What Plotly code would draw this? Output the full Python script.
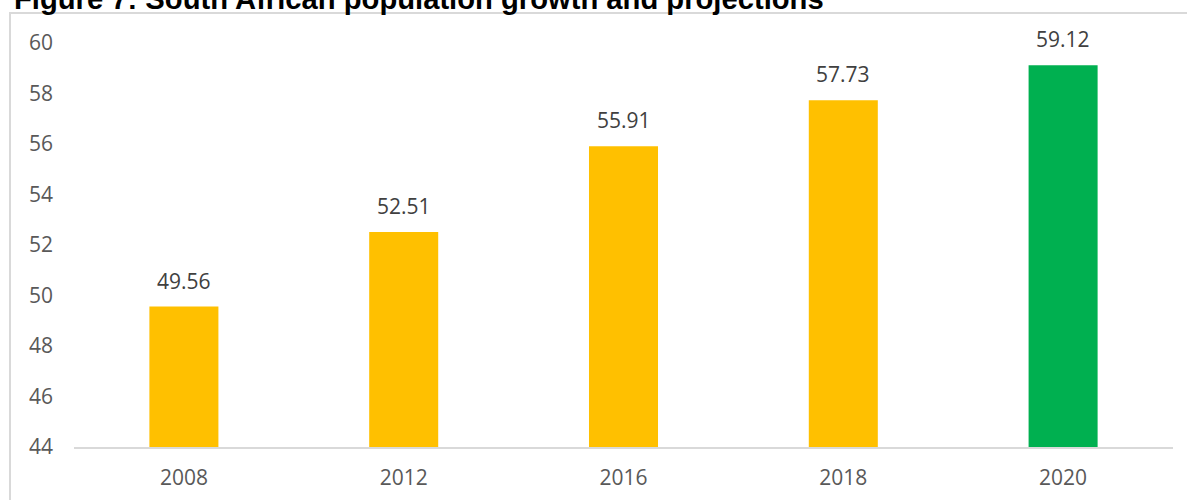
import plotly.graph_objects as go

years = ["2008", "2012", "2016", "2018", "2020"]
population = [49.56, 52.51, 55.91, 57.73, 59.12]
bar_colors = ["#FFC000", "#FFC000", "#FFC000", "#FFC000", "#00B050"]
y_ticks = [44, 46, 48, 50, 52, 54, 56, 58, 60]
title_text = "Figure 7: South African population growth and projections"

W, H = 1187, 500
L, R, T, B = 74, 14, 43, 53
pw, ph = W - L - R, H - T - B

fig = go.Figure()
fig.add_trace(go.Bar(
    x=years, y=population, marker_color=bar_colors, marker_line_width=0,
    width=0.314, hoverinfo="skip",
))

# data labels (category axis: annotations use the category serial number)
for i, v in enumerate(population):
    fig.add_annotation(
        x=i, y=v, text=f"{v:.2f}", showarrow=False, yshift=26,
        yanchor="middle", font=dict(family="Open Sans", size=21, color="#404040"),
    )

# title (partially clipped at top)
fig.add_annotation(
    xref="paper", yref="paper", x=(12 - L) / pw, y=(H - B + 1) / ph,
    xanchor="left", yanchor="middle", text="<b>" + title_text + "</b>",
    showarrow=False, font=dict(family="Liberation Sans", size=29.2, color="#000000"),
)

# chart border
fig.add_shape(
    type="rect", xref="paper", yref="paper",
    x0=(10 - L) / pw, x1=(W + 20 - L) / pw,
    y0=-(B + 20) / ph, y1=(H - B - 13) / ph,
    line=dict(color="#D9D9D9", width=2), fillcolor="rgba(0,0,0,0)", layer="below",
)

fig.update_layout(
    width=W, height=H, margin=dict(l=L, r=R, t=T, b=B, autoexpand=False),
    paper_bgcolor="white", plot_bgcolor="white", showlegend=False,
    font=dict(family="Open Sans", size=21, color="#595959"),
)
fig.update_xaxes(
    type="category", categoryorder="array", categoryarray=years,
    showgrid=False, showline=True, linecolor="#D9D9D9", linewidth=2,
    ticks="", ticklabelstandoff=11, tickfont=dict(size=21, color="#595959"),
    range=[-0.5, len(years) - 0.5],
)
fig.update_yaxes(
    range=[44, 60], tickvals=y_ticks, showgrid=False, zeroline=False,
    showline=False, ticks="", ticklabelstandoff=20,
    tickfont=dict(size=21, color="#595959"),
)

fig.write_html(
    "out.html",
    config={"displayModeBar": False},
    post_script="document.body.style.margin='0';document.body.style.overflow='hidden';",
)
